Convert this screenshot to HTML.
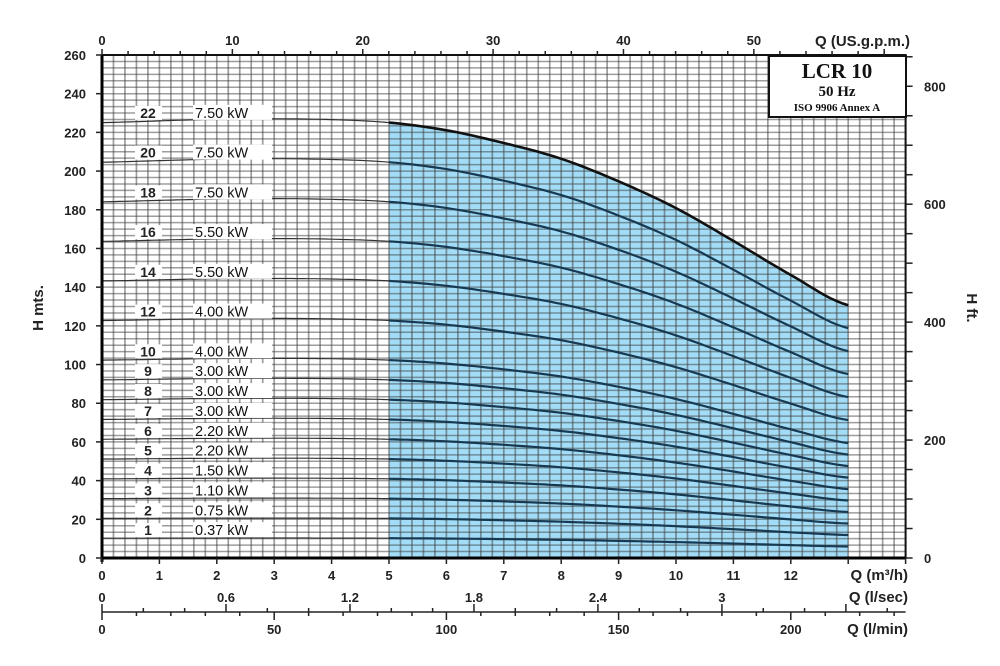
<!DOCTYPE html>
<html><head><meta charset="utf-8"><style>
html,body{margin:0;padding:0;background:#fff;}
svg{display:block;font-family:"Liberation Sans",Arial,sans-serif;}
.t{font-size:13px;font-weight:bold;fill:#222;}
</style></head><body>
<svg id="chart" width="1000" height="666" viewBox="0 0 1000 666" xmlns="http://www.w3.org/2000/svg">
<g id="fill-layer"></g>
<g id="grid"></g>
<g id="curves"></g>
<g id="labels"></g>
<g id="axes"></g>
<g>
<rect x="769" y="56" width="137" height="61" fill="#fff" stroke="#111" stroke-width="2"/>
<text x="837" y="78" text-anchor="middle" style="font-family:'Liberation Serif',serif;font-size:21px;font-weight:bold" fill="#111">LCR 10</text>
<text x="837" y="96" text-anchor="middle" style="font-family:'Liberation Serif',serif;font-size:15px;font-weight:bold" fill="#111">50 Hz</text>
<text x="837" y="111" text-anchor="middle" style="font-family:'Liberation Serif',serif;font-size:11px;font-weight:bold" fill="#111">ISO 9906 Annex A</text>
</g>
</svg>
<script>
// ---- data ----
const flowPoints = [0,1,2,3,4,5,6,7,8,9,10,11,12,13];            // m3/h
const headPerStage = [10.23,10.27,10.31,10.32,10.3,10.23,10.05,9.75,9.38,8.85,8.22,7.45,6.65,5.94]; // m per stage
const stages = [1,2,3,4,5,6,7,8,9,10,12,14,16,18,20,22];
const powerLabels = ["0.37","0.75","1.10","1.50","2.20","2.20","3.00","3.00","3.00","4.00","4.00","5.50","5.50","7.50","7.50","7.50"];
const yTicks = [0,20,40,60,80,100,120,140,160,180,200,220,240,260];
const xTicks = [0,1,2,3,4,5,6,7,8,9,10,11,12];
const gpmTicks = [0,10,20,30,40,50];
const ftTicks = [0,200,400,600,800];
const lsTicks = ["0","0.6","1.2","1.8","2.4","3"];
const lminTicks = [0,50,100,150,200];
const rangeMin = 5, rangeMax = 13;

// ---- scales ----
const X0=102, XS=57.4, Y0=558, YS=503/260;
const sx = q => X0 + q*XS;
const sy = h => Y0 - h*YS;
const XR = sx(14), YT = sy(260);
const NS="http://www.w3.org/2000/svg";
function mk(tag, attrs, parent, text){
  const e=document.createElementNS(NS,tag);
  for(const k in attrs) e.setAttribute(k,attrs[k]);
  if(text!==undefined) e.textContent=text;
  parent.appendChild(e); return e;
}
function headAt(q){
  let i=Math.min(Math.floor(q),flowPoints.length-2);
  const p=j=>headPerStage[Math.max(0,Math.min(headPerStage.length-1,j))];
  const t=q-flowPoints[i];
  const p0=p(i-1),p1=p(i),p2=p(i+1),p3=p(i+2);
  return 0.5*((2*p1)+(-p0+p2)*t+(2*p0-5*p1+4*p2-p3)*t*t+(-p0+3*p1-3*p2+p3)*t*t*t);
}
function pathFor(n,a,b){
  let d="";
  for(let q=a;q<=b+1e-9;q+=0.1){ d+=(d?"L":"M")+sx(q).toFixed(1)+","+sy(n*headAt(q)).toFixed(1); }
  return d;
}
const fillG=document.getElementById('fill-layer'), gridG=document.getElementById('grid'),
 curG=document.getElementById('curves'), labG=document.getElementById('labels'), axG=document.getElementById('axes');
const topN=stages[stages.length-1];
let fd=pathFor(topN,rangeMin,rangeMax)+"L"+sx(rangeMax)+","+Y0+"L"+sx(rangeMin)+","+Y0+"Z";
const fa=mk('path',{d:fd,fill:'#a3dcf6'},fillG);


// grid
for(let q=0.2;q<14;q+=0.2){
  mk('line',{x1:sx(q),x2:sx(q),y1:YT,y2:Y0,stroke:'rgba(60,60,60,0.5)','stroke-width':1.7},gridG);
}
for(let k=1;k<78;k++){
  const y=sy(k*10/3); if(y<YT+1) break;
  mk('line',{x1:X0,x2:XR,y1:y,y2:y,stroke:'rgba(60,60,60,0.5)','stroke-width':1.5},gridG);
}
// curves
stages.forEach((n,i)=>{
  const a=mk('path',{d:pathFor(n,0,rangeMin),fill:'none',stroke:'#333','stroke-width':1.2},curG);
  
  
  const b=mk('path',{d:pathFor(n,rangeMin,rangeMax),fill:'none',stroke:n===topN?'#111':'#173a52','stroke-width':n===topN?2.6:2.2},curG);
  
  
  const y=sy(n*headAt(1))-8;
  mk('rect',{x:135,y:y-7,width:27,height:14,fill:'#fff'},labG);
  const t1=mk('text',{x:148,y:y+5,'text-anchor':'middle',class:'t',style:'font-size:14px'},labG,String(n));
  
  
  mk('rect',{x:193,y:y-8,width:79,height:15,fill:'#fff'},labG);
  const t2=mk('text',{x:195,y:y+5,class:'t',style:'font-size:14.5px;font-weight:normal;fill:#111'},labG,powerLabels[i]+' kW');
  
  
});
// frame
mk('rect',{x:X0,y:YT,width:XR-X0,height:Y0-YT,fill:'none',stroke:'#111','stroke-width':2},axG);
mk('line',{x1:X0,x2:X0,y1:YT,y2:Y0+4,stroke:'#000','stroke-width':3},axG);
mk('line',{x1:X0,x2:XR,y1:Y0,y2:Y0,stroke:'#000','stroke-width':3},axG);
yTicks.forEach(v=>{
  mk('line',{x1:X0-6,x2:X0,y1:sy(v),y2:sy(v),stroke:'#222','stroke-width':1.5},axG);
  const t=mk('text',{x:X0-16,y:sy(v)+5,'text-anchor':'end',class:'t'},axG,String(v));
  
  
});
for(let ft=0;ft<=850;ft+=50){ const y=sy(ft*0.3048); mk('line',{x1:XR,x2:XR+7,y1:y,y2:y,stroke:'#222','stroke-width':1.5},axG); }
ftTicks.forEach(v=>{ mk('text',{x:924,y:sy(v*0.3048)+5,class:'t'},axG,String(v)); });
xTicks.forEach(v=>{
  mk('line',{x1:sx(v),x2:sx(v),y1:Y0,y2:Y0+6,stroke:'#222','stroke-width':1.5},axG);
  const t=mk('text',{x:sx(v),y:580,'text-anchor':'middle',class:'t'},axG,String(v));
  
  
});
mk('line',{x1:sx(13),x2:sx(13),y1:Y0,y2:Y0+6,stroke:'#222','stroke-width':1.5},axG);
mk('line',{x1:XR,x2:XR,y1:Y0,y2:Y0+6,stroke:'#222','stroke-width':1.5},axG);
for(let g=0;g<=60;g+=2){ const x=sx(g*0.22712); if(x>XR) break; mk('line',{x1:x,x2:x,y1:YT-(g%10===0?6:4),y2:YT,stroke:'#222','stroke-width':1.5},axG); }
gpmTicks.forEach(v=>{ mk('text',{x:sx(v*0.22712),y:45,'text-anchor':'middle',class:'t'},axG,String(v)); });
lsTicks.forEach(v=>{ mk('text',{x:sx(parseFloat(v)*3.6),y:602,'text-anchor':'middle',class:'t'},axG,v); });
mk('line',{x1:X0,x2:XR,y1:612,y2:612,stroke:'#222','stroke-width':1.5},axG);
for(let s=0;s<=3.9;s+=0.2){ const x=sx(s*3.6); if(x>XR) break; const big=Math.abs(s/0.6-Math.round(s/0.6))<0.01; mk('line',{x1:x,x2:x,y1:612-(big?8:4),y2:612,stroke:'#222','stroke-width':1.5},axG); }
for(let m=0;m<=230;m+=10){ const x=sx(m*0.06); if(x>XR) break; mk('line',{x1:x,x2:x,y1:612,y2:612+(m%50===0?8:4),stroke:'#222','stroke-width':1.5},axG); }
lminTicks.forEach(v=>{ mk('text',{x:sx(v*0.06),y:634,'text-anchor':'middle',class:'t'},axG,String(v)); });
const at=(x,y,s,extra)=>{const t=mk('text',Object.assign({x:x,y:y,class:'t',style:'font-size:15px'},extra||{}),axG,s);return t;};
const a1=at(908,580,'Q (m³/h)',{'text-anchor':'end'});  
const a2=at(908,602,'Q (l/sec)',{'text-anchor':'end'});  
const a3=at(908,634,'Q (l/min)',{'text-anchor':'end'});  
const a4=at(910,46,'Q (US.g.p.m.)',{'text-anchor':'end'});  
const a5=at(0,0,'H mts.',{'text-anchor':'middle',transform:'translate(43,308) rotate(-90)'});  
const a6=at(0,0,'H ft.',{'text-anchor':'middle',transform:'translate(967,308) rotate(90)'});  
</script>
</body></html>
